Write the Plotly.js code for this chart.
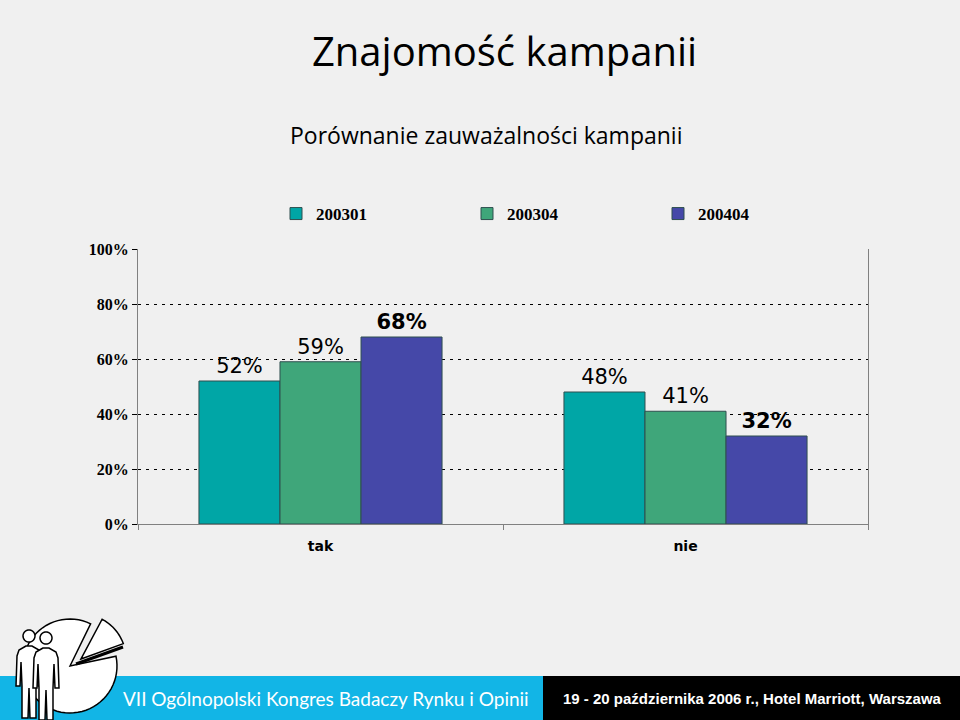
<!DOCTYPE html>
<html>
<head>
<meta charset="utf-8">
<script src="https://cdn.plot.ly/plotly-3.0.1.min.js"></script>
<style>html,body{margin:0;padding:0;background:#f0f0f0;}</style>
</head>
<body>
<div id="chart" style="width:960px;height:720px;"></div>
<script>
// ---- data ----
const categories = ["tak", "nie"];
const seriesNames = ["200301", "200304", "200404"];
const s200301 = [0.52, 0.48];
const s200304 = [0.59, 0.41];
const s200404 = [0.68, 0.32];
const yTickVals = [0, 0.2, 0.4, 0.6, 0.8, 1.0];
const yTickText = ["0%", "20%", "40%", "60%", "80%", "100%"];
const titleText = "Znajomość kampanii";
const subtitleText = "Porównanie zauważalności kampanii";
const bannerLeft = "VII Ogólnopolski Kongres Badaczy Rynku i Opinii";
const bannerRight = "19 - 20 października 2006 r., Hotel Marriott, Warszawa";

// ---- layout helpers (pixel -> paper) ----
const L = 138, R = 868, T = 249, B = 524;
const px = p => (p - L) / (R - L);
const py = p => (B - p) / (B - T);
function path(pts) {
  return pts.map((p, i) => (i ? "L" : "M") + px(p[0]).toFixed(5) + "," + py(p[1]).toFixed(5)).join(" ") + " Z";
}
function wedge(cx, cy, r, a0, a1, n) {
  const pts = [[cx, cy]];
  for (let i = 0; i <= n; i++) {
    const a = (a0 + (a1 - a0) * i / n) * Math.PI / 180;
    pts.push([cx + r * Math.cos(a), cy - r * Math.sin(a)]);
  }
  return pts;
}
function person(hx, hy) {
  return [[hx-3,hy+6],[hx-10,hy+10],[hx-12,hy+16],[hx-13,hy+46],[hx-9,hy+46],[hx-8,hy+22],
          [hx-7,hy+46],[hx-7,hy+78],[hx-1,hy+78],[hx,hy+48],[hx+1,hy+78],[hx+7,hy+78],
          [hx+7,hy+46],[hx+8,hy+22],[hx+9,hy+46],[hx+13,hy+46],[hx+12,hy+16],[hx+10,hy+10],[hx+3,hy+6]];
}
function circle(cx, cy, r) { return wedge(cx, cy, r, 0, 360, 40).slice(1); }

const colors = ["#00a6a6", "#3fa67a", "#4548a8"];
const labelFonts = [
  {family: "DejaVu Sans, Verdana, sans-serif", size: 21, color: "#000", weight: "normal"},
  {family: "DejaVu Sans, Verdana, sans-serif", size: 21, color: "#000", weight: "normal"},
  {family: "DejaVu Sans, Verdana, sans-serif", size: 21, color: "#000", weight: "bold"}
];
const seriesVals = [s200301, s200304, s200404];

const traces = seriesNames.map((name, i) => ({
  type: "bar",
  name: name,
  x: categories,
  y: seriesVals[i],
  text: seriesVals[i].map(v => Math.round(v * 100) + "%"),
  textposition: "outside",
  textfont: labelFonts[i],
  cliponaxis: false,
  marker: {color: colors[i], line: {color: "#2f4f4f", width: 1}},
  hoverinfo: "none"
}));

const shapes = [
  {type: "rect", xref: "paper", yref: "paper", x0: px(0), x1: px(543), y0: py(720), y1: py(676), fillcolor: "#12b5e6", line: {width: 0}},
  {type: "rect", xref: "paper", yref: "paper", x0: px(543), x1: px(960), y0: py(720), y1: py(676), fillcolor: "#000000", line: {width: 0}},
  // pie logo
  {type: "path", xref: "paper", yref: "paper", path: path(wedge(70, 666, 47, 64, 372, 60)), fillcolor: "#ffffff", line: {color: "#000", width: 1.5}},
  {type: "path", xref: "paper", yref: "paper", path: path(wedge(81, 659, 45, 20, 62, 20)), fillcolor: "#ffffff", line: {color: "#000", width: 1.5}},
  {type: "path", xref: "paper", yref: "paper", path: "M" + px(76) + "," + py(664) + " L" + px(123) + "," + py(647), line: {color: "#000", width: 3}},
  // people
  {type: "path", xref: "paper", yref: "paper", path: path(person(29, 640)), fillcolor: "#ffffff", line: {color: "#000", width: 1.5}},
  {type: "path", xref: "paper", yref: "paper", path: path(circle(29, 636, 6)), fillcolor: "#ffffff", line: {color: "#000", width: 1.5}},
  {type: "path", xref: "paper", yref: "paper", path: path(person(46, 642)), fillcolor: "#ffffff", line: {color: "#000", width: 1.5}},
  {type: "path", xref: "paper", yref: "paper", path: path(circle(46, 638, 6)), fillcolor: "#ffffff", line: {color: "#000", width: 1.5}}
];

const annotations = [
  {text: subtitleText, xref: "paper", yref: "paper", x: px(486), y: py(135), showarrow: false,
   xanchor: "center", yanchor: "middle", font: {family: "Open Sans, DejaVu Sans, sans-serif", size: 23, color: "#000"}},
  {text: bannerLeft, xref: "paper", yref: "paper", x: px(121), y: py(698), showarrow: false,
   xanchor: "left", yanchor: "middle", font: {family: "Lato, sans-serif", size: 19, color: "#fff"}},
  {text: bannerRight, xref: "paper", yref: "paper", x: px(561), y: py(698), showarrow: false,
   xanchor: "left", yanchor: "middle", font: {family: "Liberation Sans Narrow, Arial Narrow, Liberation Sans, sans-serif", size: 15, color: "#fff", weight: "bold"}}
];

const layout = {
  width: 960, height: 720,
  margin: {l: L, r: 960 - R, t: T, b: 720 - B, pad: 0},
  paper_bgcolor: "#f0f0f0",
  plot_bgcolor: "#f0f0f0",
  showlegend: true,
  title: {text: titleText, xref: "paper", x: px(504.5), xanchor: "center", yref: "container", y: 1 - 52 / 720, yanchor: "middle",
          font: {family: "Open Sans, DejaVu Sans, sans-serif", size: 40, color: "#000"}},
  barmode: "group",
  bargap: 0.334,
  bargroupgap: 0,
  xaxis: {
    type: "category", showline: true, linecolor: "#808080", linewidth: 1,
    ticks: "outside", tickson: "boundaries", ticklen: 5, tickcolor: "#808080",
    ticklabelstandoff: 9,
    tickfont: {family: "DejaVu Sans, Verdana, sans-serif", size: 14, color: "#000", weight: "bold"},
    showgrid: false, fixedrange: true
  },
  yaxis: {
    range: [0, 1], tickvals: yTickVals, ticktext: yTickText,
    showline: true, linecolor: "#808080", linewidth: 1, mirror: true,
    ticks: "outside", ticklen: 5, tickcolor: "#000",
    showgrid: true, gridcolor: "#000", gridwidth: 1, griddash: "3px,5px",
    zeroline: false,
    tickfont: {family: "Liberation Serif, Times New Roman, serif", size: 16, color: "#000", weight: "bold"},
    fixedrange: true
  },
  legend: {
    orientation: "h", xref: "paper", yref: "paper", x: px(276), xanchor: "left", y: py(214), yanchor: "middle",
    entrywidth: 146, entrywidthmode: "pixels",
    font: {family: "Liberation Serif, Times New Roman, serif", size: 17, color: "#000", weight: "bold"},
    bgcolor: "rgba(0,0,0,0)", traceorder: "normal"
  },
  shapes: shapes,
  annotations: annotations
};

Plotly.newPlot("chart", traces, layout, {displayModeBar: false, staticPlot: true});
</script>
</body>
</html>
